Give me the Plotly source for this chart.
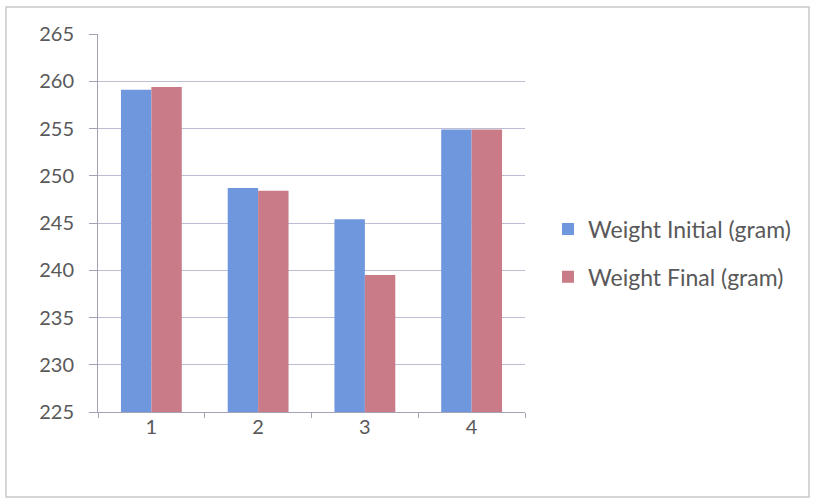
import plotly.graph_objects as go

# Sample numbers and measured weights
samples = ["1", "2", "3", "4"]
weight_initial = [259.1, 248.7, 245.4, 254.9]
weight_final = [259.4, 248.4, 239.5, 254.9]
y_ticks = [225, 230, 235, 240, 245, 250, 255, 260, 265]

W, H = 814, 502
ML, MR, MT, MB = 98, 289, 34, 90

FONT = "Lato, 'Open Sans', sans-serif"
TXT = "#595959"
GRID = "#bdbdd3"
AXIS = "#a3a3b5"

fig = go.Figure()
fig.add_trace(go.Bar(
    x=samples, y=weight_initial, name="Weight Initial (gram)",
    marker=dict(color="#6f97dd", line=dict(width=0)), legendgroup="a",
))
fig.add_trace(go.Bar(
    x=samples, y=weight_final, name="Weight Final (gram)",
    marker=dict(color="#c97b88", line=dict(width=0)), legendgroup="b",
))

pw = W - ML - MR
ph = H - MT - MB
# outer chart frame
fig.add_shape(
    type="rect", xref="paper", yref="paper",
    x0=(6 - ML) / pw, x1=(809 - ML) / pw,
    y0=(H - MB - 497) / ph, y1=(H - MB - 7) / ph,
    line=dict(color="#c9c9c9", width=1.5), layer="below",
)

fig.update_layout(
    width=W, height=H,
    margin=dict(l=ML, r=MR, t=MT, b=MB),
    paper_bgcolor="white", plot_bgcolor="white",
    barmode="group", bargap=0.43, bargroupgap=0,
    font=dict(family=FONT, size=20, color=TXT),
    showlegend=True,
    legend=dict(
        x=(548 - ML) / pw, xanchor="left",
        y=(H - MB - 253) / ph, yanchor="middle",
        font=dict(family=FONT, size=23, color=TXT),
        tracegroupgap=15, itemwidth=30,
        bgcolor="rgba(0,0,0,0)",
    ),
    xaxis=dict(
        type="category", showgrid=False,
        showline=True, linecolor=AXIS, linewidth=1,
        ticks="outside", tickson="boundaries", ticklen=5, tickcolor=AXIS,
        tickfont=dict(family=FONT, size=20, color=TXT),
        ticklabelstandoff=-3,
        fixedrange=True,
    ),
    yaxis=dict(
        range=[225, 265], tickvals=y_ticks,
        showgrid=True, gridcolor=GRID, gridwidth=1,
        showline=True, linecolor=AXIS, linewidth=1,
        ticks="outside", ticklen=8, tickcolor=AXIS,
        tickfont=dict(family=FONT, size=20, color=TXT),
        ticklabelstandoff=11, zeroline=False,
    ),
)

fig.write_html("out.html")
